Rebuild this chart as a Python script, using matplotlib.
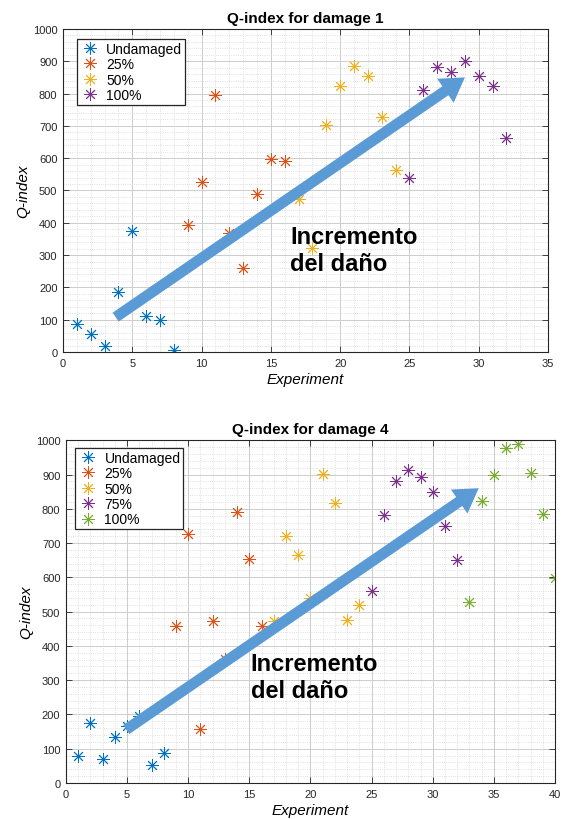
# Q-index por experimento para dos casos de daño (estilo MATLAB)
import matplotlib
matplotlib.use('Agg')
import matplotlib.pyplot as plt
from matplotlib.ticker import MultipleLocator

plt.rcParams['font.family'] = ['Liberation Sans', 'DejaVu Sans']

# Datos - daño 1
d1_x_undamaged = [1, 2, 3, 4, 5, 6, 7, 8]
d1_q_undamaged = [88, 57, 20, 185, 375, 113, 98, 5]
d1_x_25 = [9, 10, 11, 12, 13, 14, 15, 16]
d1_q_25 = [392, 525, 795, 368, 260, 490, 598, 592]
d1_x_50 = [17, 18, 19, 20, 21, 22, 23, 24]
d1_q_50 = [475, 322, 702, 824, 886, 853, 727, 562]
d1_x_100 = [25, 26, 27, 28, 29, 30, 31, 32]
d1_q_100 = [540, 810, 882, 868, 901, 853, 824, 663]
d1_labels = ['Undamaged', '25%', '50%', '100%']

# Datos - daño 4
d4_x_undamaged = [1, 2, 3, 4, 5, 6, 7, 8]
d4_q_undamaged = [80, 176, 71, 134, 167, 195, 53, 88]
d4_x_25 = [9, 10, 11, 12, 13, 14, 15, 16]
d4_q_25 = [458, 727, 158, 472, 363, 791, 654, 458]
d4_x_50 = [17, 18, 19, 20, 21, 22, 23, 24]
d4_q_50 = [474, 720, 666, 541, 901, 816, 475, 520]
d4_x_75 = [25, 26, 27, 28, 29, 30, 31, 32]
d4_q_75 = [559, 782, 880, 914, 892, 848, 750, 651]
d4_x_100 = [33, 34, 35, 36, 37, 38, 39, 40]
d4_q_100 = [529, 823, 900, 978, 989, 904, 785, 597]
d4_labels = ['Undamaged', '25%', '50%', '75%', '100%']

# Colores por defecto de MATLAB
colores_d1 = ['#0072BD', '#D95319', '#EDB120', '#7E2F8E']
colores_d4 = ['#0072BD', '#D95319', '#EDB120', '#7E2F8E', '#77AC30']
color_flecha = '#5B9BD5'


def dibujar_panel(ax, series, etiquetas, colores, xmax, titulo,
                  flecha_ini, flecha_fin, pos_texto, leg_anchor):
    for (xs, qs), lab, c in zip(series, etiquetas, colores):
        ax.plot(xs, qs, linestyle='none', marker=(8, 2, 0), markersize=9,
                markeredgewidth=0.65, color=c, label=lab)

    ax.set_xlim(0, xmax)
    ax.set_ylim(0, 1000)
    ax.xaxis.set_major_locator(MultipleLocator(5))
    ax.xaxis.set_minor_locator(MultipleLocator(1))
    ax.yaxis.set_major_locator(MultipleLocator(100))
    ax.yaxis.set_minor_locator(MultipleLocator(20))
    ax.tick_params(which='major', direction='in', top=True, right=True,
                   length=4, width=0.6, labelsize=8, colors='#262626', pad=4)
    ax.tick_params(which='minor', length=0)
    ax.grid(which='major', color='#cdcdcd', linewidth=0.7, linestyle='-')
    ax.grid(which='minor', color='#d5d5d5', linewidth=0.6, linestyle=':')
    ax.set_axisbelow(True)
    for s in ax.spines.values():
        s.set_color('#262626')
        s.set_linewidth(0.8)

    ax.set_title(titulo, fontsize=11, fontweight='bold', pad=5)
    ax.set_xlabel('Experiment', fontsize=11, style='italic', labelpad=3)
    ax.set_ylabel('Q-index', fontsize=11, style='italic', labelpad=2)

    leg = ax.legend(loc='upper left', bbox_to_anchor=leg_anchor, borderaxespad=0,
                    fontsize=10, numpoints=1, handlelength=1.4, handletextpad=0.5,
                    labelspacing=0.1, borderpad=0.2, fancybox=False,
                    framealpha=1, edgecolor='#262626')
    leg.get_frame().set_linewidth(0.9)

    # Flecha "Incremento del daño"
    ax.annotate('', xy=flecha_fin, xytext=flecha_ini,
                arrowprops=dict(facecolor=color_flecha, edgecolor='none',
                                width=7.8, headwidth=21, headlength=17, shrink=0),
                zorder=5)
    ax.text(pos_texto[0], pos_texto[1], 'Incremento\ndel daño', fontsize=17,
            fontweight='bold', va='top', ha='left', linespacing=1.2, zorder=6)


fig = plt.figure(figsize=(5.64, 8.2), dpi=100)

ax1 = fig.add_axes([0.1117, 0.5695, 0.860, 0.394])
dibujar_panel(ax1,
              [(d1_x_undamaged, d1_q_undamaged), (d1_x_25, d1_q_25),
               (d1_x_50, d1_q_50), (d1_x_100, d1_q_100)],
              d1_labels, colores_d1, 35, 'Q-index for damage 1',
              (3.8, 108), (29.0, 850), (16.4, 392), (0.029, 0.969))

ax2 = fig.add_axes([0.117, 0.0439, 0.867, 0.418])
dibujar_panel(ax2,
              [(d4_x_undamaged, d4_q_undamaged), (d4_x_25, d4_q_25),
               (d4_x_50, d4_q_50), (d4_x_75, d4_q_75), (d4_x_100, d4_q_100)],
              d4_labels, colores_d4, 40, 'Q-index for damage 4',
              (4.93, 156), (33.76, 860), (15.1, 382), (0.019, 0.977))

fig.savefig('out.png', dpi=100)
plt.close(fig)
